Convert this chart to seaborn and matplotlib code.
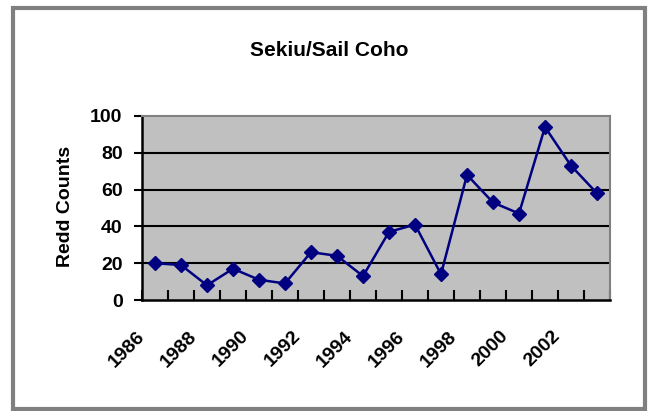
import numpy as np
import pandas as pd
import matplotlib
matplotlib.use("Agg")
import matplotlib.pyplot as plt
import matplotlib.transforms as mtrans
from matplotlib.patches import Rectangle
import seaborn as sns

# data
years = list(range(1986, 2004))
redd_counts = [20, 19, 8, 17, 11, 9, 26, 24, 13, 37, 41, 14, 68, 53, 47, 94, 73, 58]
year_labels = ["1986", "1988", "1990", "1992", "1994", "1996", "1998", "2000", "2002"]
y_ticks = [0, 20, 40, 60, 80, 100]

sns.set_style("white")
plt.rcParams["font.family"] = ["Liberation Sans", "DejaVu Sans"]
plt.rcParams["font.weight"] = "bold"
plt.rcParams["text.color"] = "black"
plt.rcParams["xtick.labelcolor"] = "black"
plt.rcParams["ytick.labelcolor"] = "black"

W, H = 649, 411
fig = plt.figure(figsize=(W / 100, H / 100), dpi=100)
fig.patch.set_facecolor("white")

# plot area in pixel terms of the reference
left, right, top, bottom = 142, 610, 116, 300
ax = fig.add_axes([left / W, 1 - bottom / H, (right - left) / W, (bottom - top) / H])
ax.set_facecolor("#C0C0C0")

df = pd.DataFrame({"idx": np.arange(len(years)), "count": redd_counts})
sns.lineplot(data=df, x="idx", y="count", ax=ax, color="#000080", linewidth=1.8,
             marker="D", markersize=7.5, markeredgecolor="#000080", markeredgewidth=1)

ax.set_xlim(-0.5, len(years) - 0.5)
ax.set_ylim(0, 100)

# horizontal gridlines
for v in y_ticks[1:-1]:
    ax.axhline(v, color="black", linewidth=1.5, zorder=1)

ax.set_yticks(y_ticks)
ax.set_yticklabels([str(v) for v in y_ticks], fontsize=14, fontweight="bold")
ax.tick_params(axis="y", direction="out", length=6, width=1.5, color="black", pad=8, left=True)

# category tick marks between categories, labels every second year
ax.set_xticks(np.arange(-0.5, len(years)), minor=True)
ax.set_xticks([years.index(int(s)) for s in year_labels])
ax.set_xticklabels(year_labels, fontsize=14, fontweight="bold", rotation=45,
                   ha="right", va="top", rotation_mode="anchor")
ax.tick_params(axis="x", which="minor", direction="in", length=7, width=1.5, color="black", bottom=True)
ax.tick_params(axis="x", which="major", length=0, pad=20)
shift = mtrans.ScaledTranslation(-19 / 100, 0, fig.dpi_scale_trans)
for lbl in ax.get_xticklabels():
    lbl.set_transform(lbl.get_transform() + shift)

ax.set_xlabel("")
ax.set_ylabel("")

for side in ["left", "bottom"]:
    ax.spines[side].set_color("black")
    ax.spines[side].set_linewidth(1.8)
for side in ["top", "right"]:
    ax.spines[side].set_color("#808080")
    ax.spines[side].set_linewidth(1.5)

fig.text(329 / W, 1 - 56 / H, "Sekiu/Sail Coho", ha="center", va="baseline",
         fontsize=15, fontweight="bold")
fig.text(65 / W, 1 - 206 / H, "Redd Counts", ha="center", va="center", rotation=90,
         fontsize=14, fontweight="bold")

# gray outer frame like the chart border
fig.patches.append(Rectangle((13 / W, 1 - 409 / H), (645 - 13) / W, (409 - 8) / H,
                             transform=fig.transFigure, fill=False,
                             edgecolor="#808080", linewidth=3))

fig.savefig("out.png", dpi=100)
